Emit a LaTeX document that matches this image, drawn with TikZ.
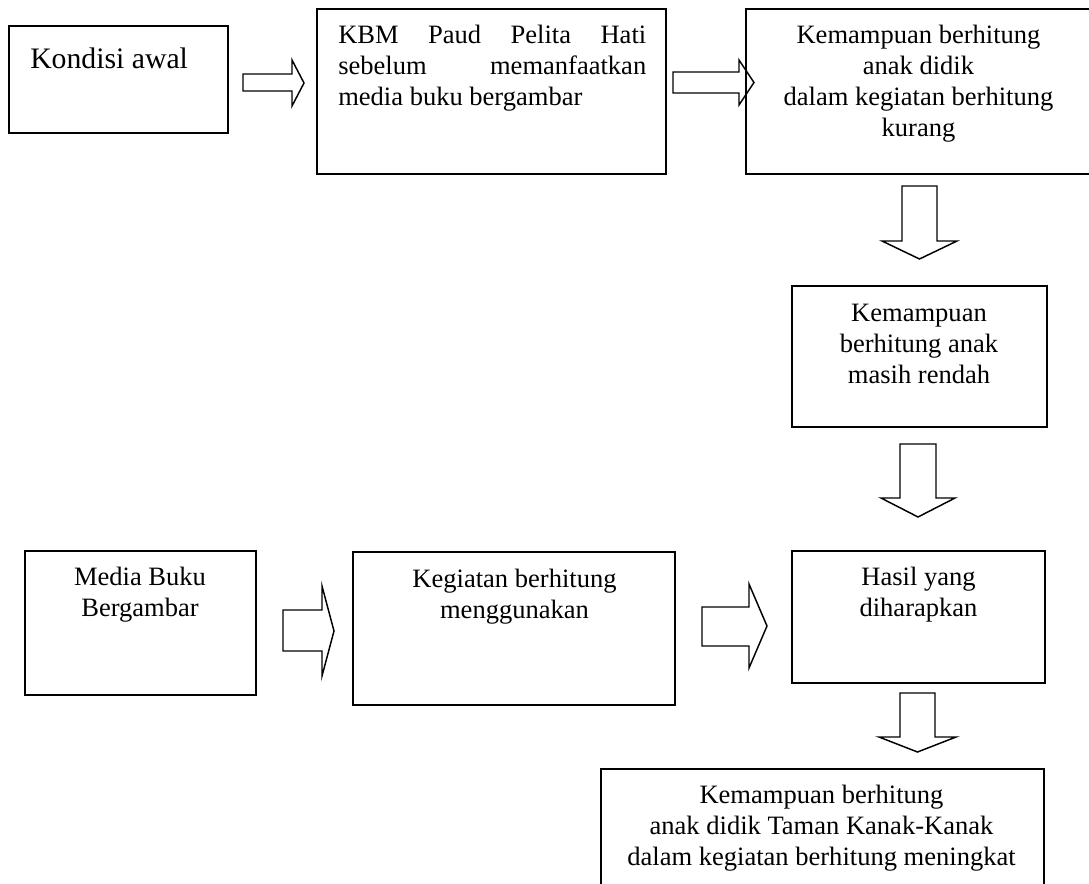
\documentclass[tikz,border=0pt]{standalone}
\usepackage{fontspec}
\setmainfont{Liberation Serif}
\begin{document}
\begin{tikzpicture}[x=0.75pt,y=-0.75pt,
  box/.style={draw,line width=1.4pt},
  blockarrow/.style={draw,line width=1.1pt,line join=miter},
  txt/.style={inner sep=0pt,font=\fontsize{19.9}{23.25}\selectfont},
  ctxt/.style={txt,align=center,anchor=north},
]
\useasboundingbox (0,0) rectangle (1089,883);
\clip (0,0) rectangle (1089,883);
\fill[white] (0,0) rectangle (1089,883);
% boxes
\draw[box] (9,26) rectangle (228,133) node[pos=0,coordinate] (kondisi) {};
\draw[box] (317,9) rectangle (666,174) node[pos=0,coordinate] (kbm) {};
\draw[box] (746,9) rectangle (1100,174) node[pos=0,coordinate] (kurang) {};
\draw[box] (792,286) rectangle (1047,427) node[pos=0,coordinate] (rendah) {};
\draw[box] (792,551) rectangle (1045,683) node[pos=0,coordinate] (hasil) {};
\draw[box] (25,551) rectangle (256,695) node[pos=0,coordinate] (media) {};
\draw[box] (353,552) rectangle (675,705) node[pos=0,coordinate] (kegiatan) {};
\draw[box] (601,769) rectangle (1044,900) node[pos=0,coordinate] (meningkat) {};
% texts
\node[inner sep=0pt,anchor=base west,font=\fontsize{22.3}{26}\selectfont] (tkondisi) at (30,68) {Kondisi awal};
\node[txt,anchor=north west,align=left] (tkbm) at (338,21.3)
  {\strut\makebox[231pt][s]{KBM Paud Pelita Hati}\\\strut\makebox[231pt][s]{sebelum memanfaatkan}\\\strut media buku bergambar};
\node[ctxt] (tkurang) at (918.5,21.3) {\strut Kemampuan berhitung\\\strut anak didik\\\strut dalam kegiatan berhitung\\\strut kurang};
\node[ctxt] (trendah) at (919,299.3) {\strut Kemampuan\\\strut berhitung anak\\\strut masih rendah};
\node[ctxt] (thasil) at (918.5,563.3) {\strut Hasil yang\\\strut diharapkan};
\node[ctxt] (tmedia) at (140,563.3) {\strut Media Buku\\\strut Bergambar};
\node[ctxt] (tkegiatan) at (514.5,565.3) {\strut Kegiatan berhitung\\\strut menggunakan};
\node[ctxt] (tmeningkat) at (821.5,781.3) {\strut Kemampuan berhitung\\\strut anak didik Taman Kanak-Kanak\\\strut dalam kegiatan berhitung meningkat};
% right block arrows
\draw[blockarrow] (243,74) -- (292,74) -- (292,60) -- (304,83) -- (292,106) -- (292,91) -- (243,91) -- cycle;
\draw[blockarrow] (673,72) -- (739,72) -- (739,60) -- (754,82.5) -- (739,105) -- (739,93) -- (673,93) -- cycle;
\draw[blockarrow] (283,610) -- (322,610) -- (322,586) -- (334,631) -- (322,676) -- (322,651) -- (283,651) -- cycle;
\draw[blockarrow] (702,607) -- (749,607) -- (749,584) -- (767,626) -- (749,668) -- (749,646) -- (702,646) -- cycle;
% down block arrows
\draw[blockarrow] (902,186) -- (902,241) -- (882,241) -- (919.5,259) -- (957,241) -- (937,241) -- (937,186) -- cycle;
\draw[blockarrow] (900,444) -- (900,498) -- (881,498) -- (918,517) -- (955,498) -- (936,498) -- (936,444) -- cycle;
\draw[blockarrow] (900,693) -- (900,737) -- (879,737) -- (917.5,752) -- (956,737) -- (935,737) -- (935,693) -- cycle;
\end{tikzpicture}
\end{document}
